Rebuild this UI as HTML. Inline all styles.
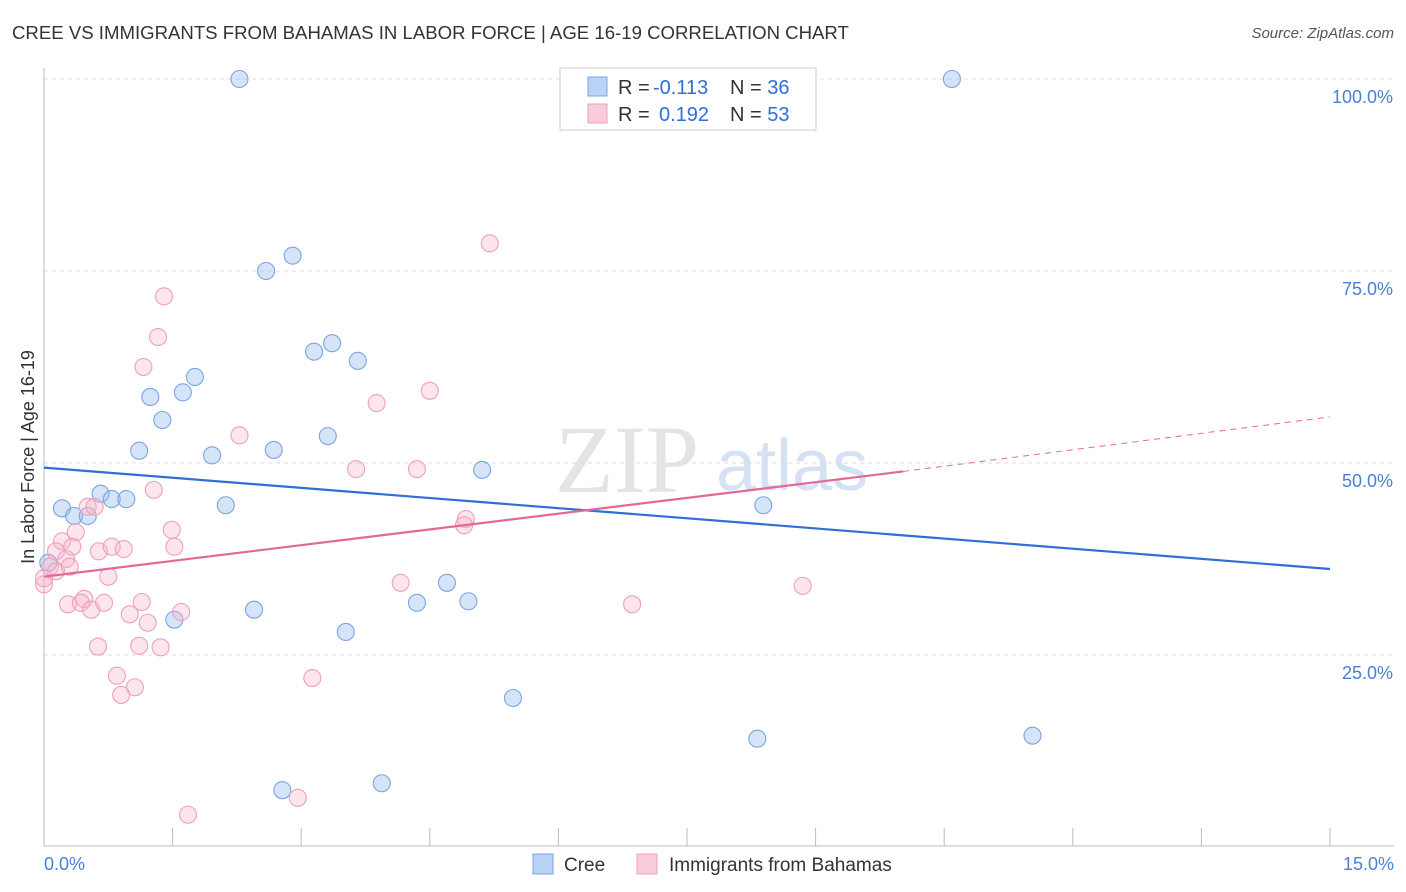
<!DOCTYPE html>
<html><head><meta charset="utf-8">
<style>
body{margin:0;background:#fff;font-family:"Liberation Sans",sans-serif;}
#wrap{position:relative;width:1406px;height:892px;overflow:hidden;}
.t{position:absolute;white-space:nowrap;}
</style></head>
<body>
<div id="wrap">
<div class="t" style="left:12px;top:22px;font-size:18.6px;color:#333;">CREE VS IMMIGRANTS FROM BAHAMAS IN LABOR FORCE | AGE 16-19 CORRELATION CHART</div>
<div class="t" style="right:12px;top:25px;font-size:15px;color:#555;font-style:italic;">Source: ZipAtlas.com</div>
<svg id="svg" width="1406" height="892" style="position:absolute;left:0;top:0"></svg>
</div>
<script>
const xTicks=[0,1.5,3,4.5,6,7.5,9,10.5,12,13.5,15];
const yTicks=[25,50,75,100];
const creeX=[2.28,10.59,2.59,2.90,3.15,3.36,3.66,1.76,1.62,1.24,1.38,1.11,1.96,2.68,3.31,5.11,0.21,0.35,0.51,0.66,0.79,0.96,2.12,8.39,4.70,4.35,4.95,2.45,1.52,3.52,5.47,8.32,11.53,2.78,3.94,0.05];
const creeY=[100,100,75,77,64.5,65.6,63.3,61.2,59.2,58.6,55.6,51.6,51,51.7,53.5,49.1,44.1,43.1,43.1,46,45.3,45.3,44.5,44.5,34.4,31.8,32,30.9,29.6,28,19.4,14.1,14.5,7.4,8.3,37];
const bahX=[5.20,1.40,1.33,1.16,4.50,3.88,2.28,3.64,4.35,1.28,0.51,0.59,1.49,1.52,4.92,4.90,0.37,0.21,0.33,0.64,0.79,0.93,0.14,0.26,0.07,0.14,0.30,0,0.75,0.47,0.28,0.43,0.70,1.14,1.60,1.00,0.55,1.21,0.63,1.11,1.36,0.85,1.06,0.90,3.13,4.16,6.86,8.85,2.96,1.68,0];
const bahY=[78.6,71.7,66.4,62.5,59.4,57.8,53.6,49.2,49.2,46.5,44.3,44.3,41.3,39.1,42.7,41.9,41,39.8,39.1,38.5,39.1,38.8,38.5,37.5,36.5,35.9,36.5,34.2,35.2,32.3,31.6,31.8,31.8,31.9,30.6,30.3,30.9,29.2,26.1,26.2,26,22.3,20.8,19.8,22,34.4,31.6,34,6.4,4.2,35];
const creeLine=[0,49.4,15,36.2];
const bahLine=[0,35.2,10.02,48.9,15,56];
const S='http://www.w3.org/2000/svg';
const svg=document.getElementById('svg');
const X0=44,X1=1330,YT=79,YB=847;
const sx=v=>X0+v/15*(X1-X0), sy=v=>YB-v/100*(YB-YT);
function mk(t,a,p){const e=document.createElementNS(S,t);for(const k in a)e.setAttribute(k,a[k]);(p||svg).appendChild(e);return e;}
let w=mk('text',{x:555,y:492,'font-size':96,fill:'#e4e4e4','font-family':'Liberation Serif',});w.textContent='ZIP';


let w2=mk('text',{x:716,y:490,'font-size':72,fill:'#d5e2f3','font-family':'Liberation Sans'});w2.textContent='atlas';


yTicks.forEach(v=>{
 const g=mk('line',{x1:X0,x2:1394,y1:sy(v),y2:sy(v),stroke:'#ddd','stroke-dasharray':'4,4'});
 
 
 const t=mk('text',{x:1393,y:sy(v)+24,'text-anchor':'end','font-size':18,fill:'#4a7fd6','font-family':'Liberation Sans'});
 t.textContent=v.toFixed(1)+'%';
 
 
});
mk('line',{x1:X0,x2:X0,y1:68,y2:846,stroke:'#bbb'});
mk('line',{x1:X0,x2:1394,y1:846,y2:846,stroke:'#bbb'});
xTicks.forEach(v=>{
 const l=mk('line',{x1:sx(v),x2:sx(v),y1:828,y2:846,stroke:'#bbb'});
 
 
});
[[0,'0.0%','start',44],[15,'15.0%','end',1394]].forEach(([v,s,a,x])=>{
 const t=mk('text',{x:x,y:870,'text-anchor':a,'font-size':18,fill:'#4a7fd6','font-family':'Liberation Sans'});t.textContent=s;
 
 
});
const yt=mk('text',{transform:'translate(34,457) rotate(-90)','text-anchor':'middle','font-size':18,fill:'#333','font-family':'Liberation Sans'});
yt.textContent='In Labor Force | Age 16-19';


creeX.forEach((x,i)=>{
 const c=mk('circle',{cx:sx(x),cy:sy(creeY[i]),r:8.5,fill:'rgba(150,188,238,0.4)',stroke:'#7aa5e0','stroke-width':1.1});
 
 
});
bahX.forEach((x,i)=>{
 const c=mk('circle',{cx:sx(x),cy:sy(bahY[i]),r:8.5,fill:'rgba(248,180,203,0.35)',stroke:'#eea0bb','stroke-width':1.1});
 
 
});
let l=mk('line',{x1:sx(creeLine[0]),y1:sy(creeLine[1]),x2:sx(creeLine[2]),y2:sy(creeLine[3]),stroke:'#2f6fd6','stroke-width':2.2});


l=mk('line',{x1:sx(bahLine[0]),y1:sy(bahLine[1]),x2:sx(bahLine[2]),y2:sy(bahLine[3]),stroke:'#e4679a','stroke-width':2.2});


l=mk('line',{x1:sx(bahLine[2]),y1:sy(bahLine[3]),x2:sx(bahLine[4]),y2:sy(bahLine[5]),stroke:'#e4679a','stroke-width':1,'stroke-dasharray':'6,5'});


const lg=mk('rect',{x:560,y:68,width:256,height:62,fill:'#fff',stroke:'#ccc'});


[[77,'rgba(140,180,235,0.6)','#7aa5e0','-0.113','36'],[104,'rgba(245,170,195,0.6)','#eea0bb','0.192','53']].forEach(([y,f,s,r,n],i)=>{
 const rr=mk('rect',{x:588,y:y,width:19,height:19,fill:f,stroke:s});
 
 
 const t=mk('text',{x:618,y:y+17,'font-size':20,fill:'#333','font-family':'Liberation Sans'});
 t.innerHTML='R = <tspan fill="#2f6fd6" x="'+(i?659:653)+'">'+r+'</tspan><tspan fill="#333" x="730">N = </tspan><tspan fill="#2f6fd6">'+n+'</tspan>';
 
 
});
[[533,'rgba(140,180,235,0.6)','#7aa5e0','Cree',564],[637,'rgba(245,170,195,0.6)','#eea0bb','Immigrants from Bahamas',669]].forEach(([x,f,s,lbl,tx])=>{
 const r=mk('rect',{x:x,y:854,width:20,height:20,fill:f,stroke:s});
 
 
 const t=mk('text',{x:tx,y:871,'font-size':19,fill:'#333','font-family':'Liberation Sans'});t.textContent=lbl;
 
 
});
</script>
</body></html>
